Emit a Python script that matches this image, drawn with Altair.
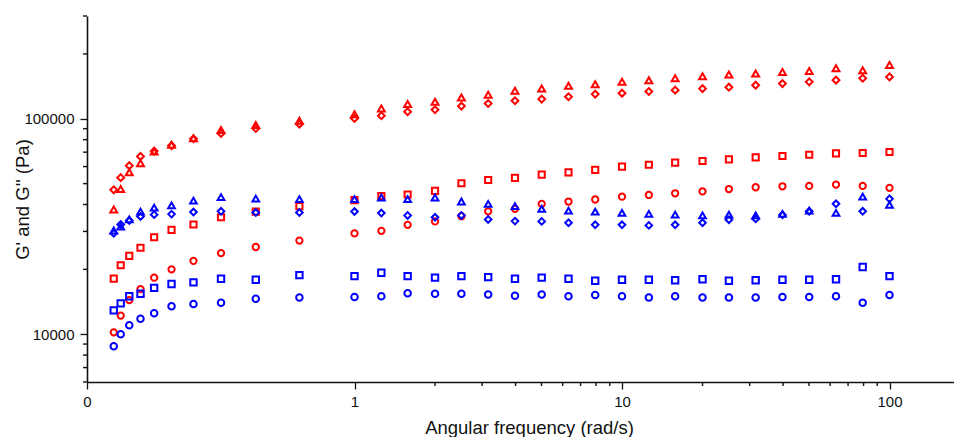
import math
import altair as alt
import pandas as pd

# Angular frequency (rad/s)
freq = [0.1, 0.126, 0.158, 0.2, 0.251, 0.316, 0.398, 0.501, 0.631, 0.794,
        1.0, 1.26, 1.58, 2.0, 2.51, 3.16, 3.98, 5.01, 6.31, 7.94,
        10.0, 12.6, 15.8, 20.0, 25.1, 31.6, 39.8, 50.1, 63.1, 79.4, 100.0]

red_triangle = [37900, 47200, 56500, 62200, 70400, 75800, 81200, 88700, 93500, 97900,
                105100, 111600, 117000, 119900, 125500, 129200, 134800, 138100, 142200, 144700,
                148400, 151100, 154300, 157700, 160400, 162100, 165100, 166800, 171700, 168100, 177800]
red_diamond = [46800, 53300, 60600, 66900, 70800, 75000, 80800, 85500, 90200, 94500,
               100300, 103300, 107800, 110100, 114500, 117700, 121200, 123400, 126500, 130200,
               131500, 133800, 135800, 138100, 140200, 143200, 145700, 148400, 151100, 154300, 156500]
red_square = [18100, 20900, 23100, 25200, 28200, 30500, 32300, 34900, 37100, 39300,
              41900, 43800, 44500, 46300, 50200, 52000, 53200, 55100, 56400, 57900,
              60000, 61200, 62600, 63700, 64800, 66200, 67200, 68100, 69100, 69400, 70100]
red_circle = [10200, 12200, 14400, 16200, 18300, 20000, 21900, 23800, 25400, 27200,
              29400, 30200, 32200, 33400, 35300, 37200, 38200, 40300, 41300, 42200,
              43500, 44300, 45100, 46000, 47200, 48100, 48600, 48800, 49500, 48800, 47800]
blue_triangle = [30300, 31600, 34100, 37100, 38700, 39600, 41700, 43300, 42600, 42400,
                 42400, 43100, 42400, 43100, 41300, 40300, 39300, 38200, 37500, 37100,
                 36600, 36200, 35900, 35600, 35900, 35600, 36200, 37500, 36600, 43500, 39900]
blue_diamond = [29400, 32300, 33700, 35200, 35900, 36100, 36900, 37200, 36700, 36700,
                37100, 36500, 35600, 34900, 35600, 34100, 33500, 33400, 32900, 32200,
                32200, 32000, 32200, 32900, 34000, 34300, 35800, 37200, 40300, 37200, 42500]
blue_square = [12900, 13900, 15000, 15400, 16400, 17100, 17400, 18100, 17900, 18800,
               18600, 19300, 18600, 18300, 18600, 18400, 18100, 18300, 18100, 17700,
               17900, 17900, 17800, 18000, 17700, 17800, 17900, 17900, 18000, 20500, 18600]
blue_circle = [8800, 10000, 11000, 11800, 12500, 13500, 13800, 14000, 14600, 14800,
               14900, 15000, 15500, 15400, 15400, 15300, 15100, 15300, 15000, 15200,
               15000, 14800, 15000, 14800, 14800, 14800, 14900, 14900, 15000, 14000, 15200]

series_names = ["red_square", "red_circle", "blue_square", "blue_circle",
                "blue_diamond", "blue_triangle", "red_diamond", "red_triangle"]
series_values = [red_square, red_circle, blue_square, blue_circle,
                 blue_diamond, blue_triangle, red_diamond, red_triangle]
series_colors = ["#ff0000", "#ff0000", "#0000ff", "#0000ff",
                 "#0000ff", "#0000ff", "#ff0000", "#ff0000"]
series_shapes = ["square", "circle", "square", "circle",
                 "diamond", "triangle-up", "diamond", "triangle-up"]
series_sizes = [38, 48, 38, 48, 64, 70, 64, 70]

# axis tick labels / positions (x axis: linear 0..1, then logarithmic decades)
x_major_freq = [0, 1, 10, 100]
x_minor_freq = [2, 3, 4, 5, 6, 7, 8, 9, 20, 30, 40, 50, 60, 70, 80, 90]
y_major = [10000, 100000]
y_minor = [6000, 7000, 8000, 9000, 20000, 30000, 40000, 50000, 60000, 70000,
           80000, 90000, 200000, 300000]


def to_pos(f):
    return f if f < 1 else 1 + math.log10(f)


POS_EXPR = "datum.freq < 1 ? datum.freq : 1 + log(datum.freq) / LN10"

rows = []
for name, vals in zip(series_names, series_values):
    for f, v in zip(freq, vals):
        rows.append({"freq": f, "G": v, "series": name})
df = pd.DataFrame(rows)

W, H = 867, 366
x_max = W / 267.5
FONT = "Liberation Sans"
AX = "#111111"

x_scale = alt.Scale(domain=[0, x_max], nice=False, zero=False)
y_scale = alt.Scale(type="log", domain=[6000, 300000], nice=False)


def major_x():
    return alt.Axis(
        values=[to_pos(v) for v in x_major_freq],
        labelExpr="datum.value == 0 ? '0' : format(pow(10, datum.value - 1), 'd')",
        title="Angular frequency (rad/s)", titleFontSize=18.5, titleFontWeight="normal",
        titleFont=FONT, titleColor=AX, titleX=442, titleY=45,
        titleBaseline="middle", titleAlign="center",
        labelFont=FONT, labelFontSize=15, labelColor=AX, labelPadding=5,
        tickSize=7, tickWidth=1.3, tickColor=AX, domainColor=AX, domainWidth=1.6,
        grid=False, orient="bottom", labelFlush=False, labelOverlap=False,
    )


def major_y():
    return alt.Axis(
        values=y_major, format="d",
        title="G' and G'' (Pa)", titleFontSize=18.5, titleFontWeight="normal",
        titleFont=FONT, titleColor=AX, titleX=-65, titleY=H / 2, titleAngle=270,
        titleBaseline="middle", titleAlign="center",
        labelFont=FONT, labelFontSize=15, labelColor=AX, labelPadding=6,
        tickSize=7, tickWidth=1.3, tickColor=AX, domainColor=AX, domainWidth=1.6,
        grid=False, orient="left", labelOverlap=False,
    )


points = alt.Chart(df).transform_calculate(pos=POS_EXPR).mark_point(
    filled=False, strokeWidth=2, opacity=1
).encode(
    x=alt.X("pos:Q", scale=x_scale, axis=major_x()),
    y=alt.Y("G:Q", scale=y_scale, axis=major_y()),
    color=alt.Color("series:N", scale=alt.Scale(domain=series_names, range=series_colors), legend=None),
    shape=alt.Shape("series:N", scale=alt.Scale(domain=series_names, range=series_shapes), legend=None),
    size=alt.Size("series:N", scale=alt.Scale(domain=series_names, range=series_sizes), legend=None),
)

# minor ticks, placed through the same scales (axes identical to the main ones so they merge)
y_minor_ticks = alt.Chart(pd.DataFrame({"G": y_minor})).mark_rule(
    color=AX, strokeWidth=1.4
).encode(
    y=alt.Y("G:Q", scale=y_scale, axis=major_y()),
    x=alt.value(-4), x2=alt.value(0),
)
x_minor_ticks = alt.Chart(pd.DataFrame({"freq": x_minor_freq})).transform_calculate(
    pos=POS_EXPR
).mark_rule(color=AX, strokeWidth=1.4).encode(
    x=alt.X("pos:Q", scale=x_scale, axis=major_x()),
    y=alt.value(H), y2=alt.value(H + 4),
)

chart = alt.layer(points, y_minor_ticks, x_minor_ticks).properties(
    width=W, height=H,
    autosize="none",
    padding={"left": 79, "top": 8, "right": 0, "bottom": 55},
    background="white",
).configure_view(stroke=None)

chart.save("out.html", embed_options={"renderer": "svg", "actions": False})
